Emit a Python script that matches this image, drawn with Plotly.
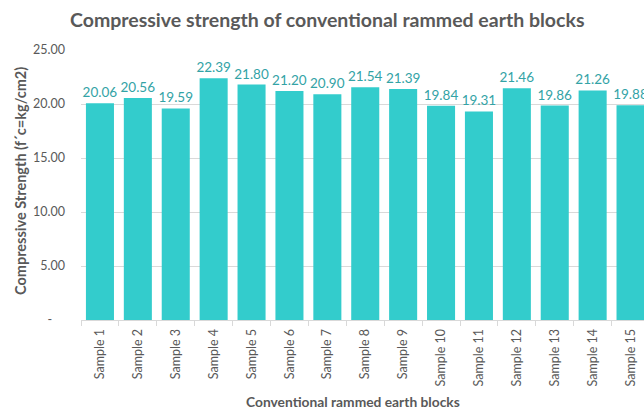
import plotly.graph_objects as go

samples = ["Sample 1", "Sample 2", "Sample 3", "Sample 4", "Sample 5", "Sample 6", "Sample 7",
           "Sample 8", "Sample 9", "Sample 10", "Sample 11", "Sample 12", "Sample 13",
           "Sample 14", "Sample 15"]
strength = [20.06, 20.56, 19.59, 22.39, 21.80, 21.20, 20.90, 21.54, 21.39, 19.84, 19.31,
            21.46, 19.86, 21.26, 19.88]
y_tickvals = [0, 5, 10, 15, 20, 25]
y_ticktext = ["-\u00a0\u00a0\u00a0\u00a0", "5.00", "10.00", "15.00", "20.00", "25.00"]

FONT = "Lato"
GRAY = "#595959"
BAR = "#33CCCC"
LABEL = "#33A3A6"

L, R, T, B = 81, 0, 50, 90
W, H = 644, 410
pw, ph = W - L - R, H - T - B


def px_to_paper(x, y):
    return (x - L) / pw, (H - B - y) / ph


fig = go.Figure(go.Bar(
    x=samples, y=strength,
    marker=dict(color=BAR, line=dict(width=0)),
    texttemplate="%{y:.2f}", textposition="outside",
    textfont=dict(family=FONT, size=13.5, color=LABEL),
    constraintext="none",
    cliponaxis=True,
))

fig.update_layout(
    width=W, height=H,
    margin=dict(l=L, r=R, t=T, b=B),
    paper_bgcolor="white", plot_bgcolor="white",
    bargap=0.26,
    showlegend=False,
    font=dict(family=FONT, color=GRAY),
)

ax, ay = px_to_paper(327, 20)
fig.add_annotation(text="<b>Compressive strength of conventional rammed earth blocks</b>",
                   x=ax, y=ay, xref="paper", yref="paper", showarrow=False,
                   font=dict(family=FONT, size=19.5, color=GRAY), xanchor="center", yanchor="middle")
bx, by = px_to_paper(353, 401)
fig.add_annotation(text="<b>Conventional rammed earth blocks</b>", x=bx, y=by,
                   xref="paper", yref="paper", showarrow=False,
                   font=dict(family=FONT, size=13.8, color=GRAY), xanchor="center", yanchor="middle")
cx, cy = px_to_paper(20, 181)
fig.add_annotation(text="<b>Compressive Strength (f´c=kg/cm2)</b>", x=cx, y=cy, textangle=-90,
                   xref="paper", yref="paper", showarrow=False,
                   font=dict(family=FONT, size=14.5, color=GRAY), xanchor="center", yanchor="middle")

fig.update_xaxes(
    range=[-0.5, 14.355], tickangle=-90,
    tickfont=dict(family=FONT, size=12.5, color=GRAY),
    showline=True, linecolor="#D9D9D9", linewidth=1,
    ticks="outside", tickson="boundaries", ticklen=5, tickcolor="#D9D9D9",
    ticklabelstandoff=3,
    showgrid=False, fixedrange=True,
)
fig.update_yaxes(
    range=[0, 25], tickvals=y_tickvals, ticktext=y_ticktext,
    tickfont=dict(family=FONT, size=12.5, color=GRAY),
    showgrid=True, gridcolor="#D9D9D9", gridwidth=1,
    zeroline=False, showline=False, ticks="", ticklabelstandoff=15,
)

fig.write_html("out.html")
